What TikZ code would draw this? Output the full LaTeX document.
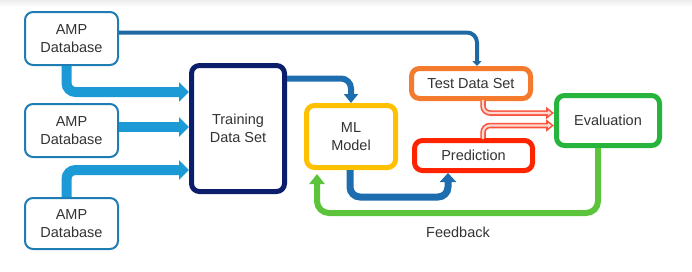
\documentclass[tikz,border=0pt]{standalone}
\usepackage{fontspec}
\setmainfont{Liberation Sans}
\usetikzlibrary{arrows.meta,calc}
\definecolor{ampblue}{HTML}{1F7DB4}
\definecolor{fatblue}{HTML}{1B9AD6}
\definecolor{navy}{HTML}{0C1D6B}
\definecolor{midblue}{HTML}{1E6DAE}
\definecolor{topblue}{HTML}{1F69A3}
\definecolor{mlyellow}{HTML}{FFC000}
\definecolor{testorange}{HTML}{F47B2E}
\definecolor{predred}{HTML}{FF2400}
\definecolor{evalgreen}{HTML}{27B43C}
\definecolor{fbgreen}{HTML}{5CC43B}
\definecolor{hollowred}{HTML}{F8553E}
\definecolor{hollowin}{HTML}{FFD9D0}
\definecolor{txt}{HTML}{333333}
\begin{document}
\begin{tikzpicture}[x=1pt,y=-1pt,
  font=\fontsize{14.5}{18.5}\selectfont,
  box/.style={draw, rounded corners=8pt, fill=white, align=center, inner sep=0pt, text=txt},
  ampbox/.style={box, draw=ampblue, line width=2pt, minimum width=93pt, minimum height=53pt},
  thickbox/.style={box, line width=5pt},
  fat/.style={fatblue, line width=10pt, rounded corners=9pt, -{Triangle[width=19pt,length=10pt]}},
  medarrow/.style={midblue, line width=7pt, rounded corners=10pt, -{Triangle[width=16pt,length=9pt]}},
  toparrow/.style={topblue, line width=4pt, rounded corners=10pt, -{Triangle[width=9pt,length=5pt]}},
  hollowout/.style={hollowred, line width=5.5pt, rounded corners=7pt, -{Triangle[width=12pt,length=8pt]}},
  hollowinner/.style={hollowin, line width=2.2pt, rounded corners=7pt, shorten >=2.5pt, -{Triangle[width=5pt,length=3.5pt]}},
  fbarrow/.style={fbgreen, line width=6pt, rounded corners=12pt, -{Triangle[width=15pt,length=10pt]}}
]
\useasboundingbox (0,0) rectangle (692,271);
\fill[top color=black!7, bottom color=white] (0,0) rectangle (692,7);

% nodes
\node[ampbox] (amp1) at (71.5,38.5) {AMP\\Database};
\node[ampbox] (amp2) at (71.5,130.5) {AMP\\Database};
\node[ampbox, minimum height=51pt] (amp3) at (71.5,223.5) {AMP\\Database};
\node[thickbox, draw=navy, minimum width=93pt, minimum height=126pt] (train) at (238,128.5) {Training\\Data Set};
\node[thickbox, draw=mlyellow, minimum width=89pt, minimum height=62pt] (ml) at (351,136.5) {ML\\Model};
\node[thickbox, draw=testorange, minimum width=119pt, minimum height=30pt] (test) at (471,83.5) {Test Data Set};
\node[thickbox, draw=predred, minimum width=118pt, minimum height=30pt] (pred) at (473.5,155.5) {Prediction};
\node[thickbox, draw=evalgreen, minimum width=103pt, minimum height=50pt] (eval) at (608,120.5) {Evaluation};
\node[text=txt] (fblabel) at (458,232) {Feedback};

% fat input arrows
\draw[fat] ($(amp1.south)+(-5,0)$) |- ($(train.west)+(0,-36.5)$);
\draw[fat] ($(amp2.east)+(0,-3.5)$) -- ($(amp2.east -| train.west)+(0,-3.5)$);
\draw[fat] ($(amp3.north)+(-5,0)$) |- ($(train.west)+(0,41.5)$);

% AMP1 to test
\draw[toparrow] ($(amp1.east)+(0,-6)$) -| ($(test.north)+(6,0)$);

% training to ML
\draw[medarrow, line width=6pt, -{Triangle[width=14pt,length=9pt]}] ($(train.east)+(0,-50)$) -| (ml.north);

% ML to prediction
\coordinate (mp) at (448,197);
\draw[medarrow] ($(ml.south)+(-1,0)$) |- (mp) -- (mp |- pred.south);

% test/pred to evaluation (hollow arrows)
\draw[hollowout] ($(test.south)+(12,0)$) |- ($(eval.west)+(0,-7.5)$);
\draw[hollowinner] ($(test.south)+(12,-1)$) |- ($(eval.west)+(0,-7.5)$);
\draw[hollowout] ($(pred.north)+(9.5,0)$) |- ($(eval.west)+(0,5)$);
\draw[hollowinner] ($(pred.north)+(9.5,1)$) |- ($(eval.west)+(0,5)$);

% feedback
\coordinate (fb) at (317,213);
\draw[fbarrow] ($(eval.south)+(-10,0)$) |- (fb) -- ($(fb |- ml.south)+(0,4)$);
\end{tikzpicture}
\end{document}
